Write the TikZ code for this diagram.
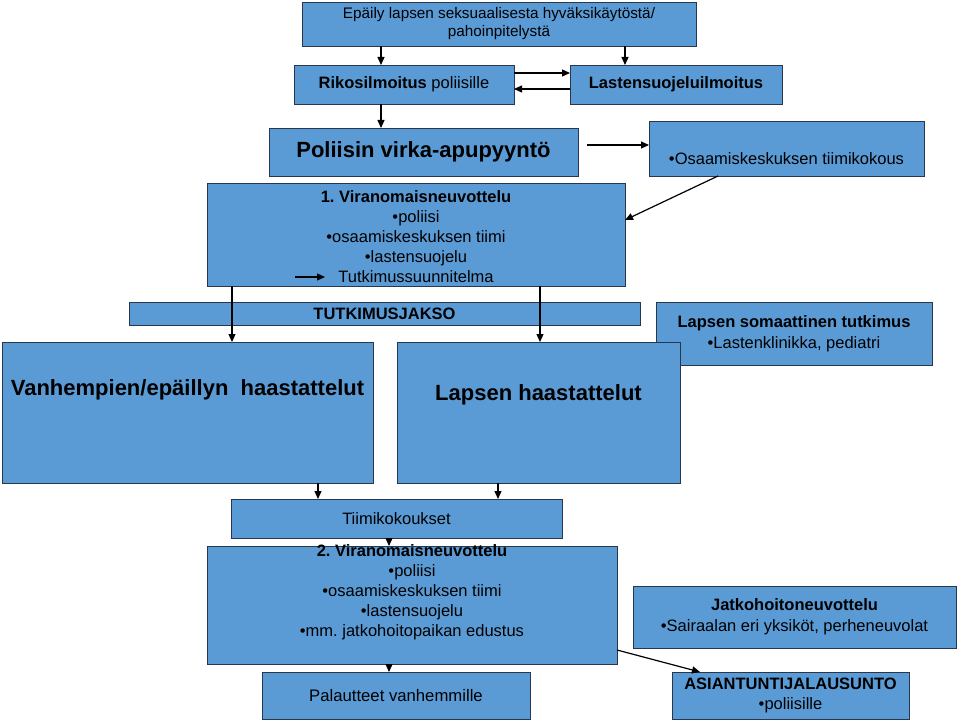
\documentclass[tikz,border=0pt]{standalone}
\usepackage{fontspec}
\setmainfont{Liberation Sans}
\frenchspacing
\usetikzlibrary{arrows.meta}
\definecolor{boxblue}{RGB}{91,155,213}
\definecolor{boxline}{RGB}{40,55,75}
\tikzset{
  box/.style={draw=boxline, fill=boxblue, line width=0.9pt, inner sep=0pt, outer sep=0pt, align=center},
  txt/.style={inner sep=0pt, align=center, text=black},
  arr/.style={line width=1.2pt, -{Triangle[length=8pt,width=7pt]}},
  fs/.style={font=\fontsize{16.5}{20}\selectfont},
  big/.style={font=\bfseries\fontsize{22}{26}\selectfont}
}
\begin{document}
\begin{tikzpicture}[x=1pt,y=-1pt]
\useasboundingbox (0,0) rectangle (959,722);
% boxes
\node[box, font=\fontsize{15.3}{18}\selectfont, minimum width=394pt, minimum height=44pt] (top) at (499,24) {Epäily lapsen seksuaalisesta hyväksikäytöstä/\\pahoinpitelystä};
\node[box, fs, minimum width=220pt, minimum height=39pt] (rikos) at (404,84.5) {\textbf{Rikosilmoitus} poliisille};
\node[box, fs, minimum width=212pt, minimum height=39pt] (lasten) at (676,84.5) {\textbf{Lastensuojeluilmoitus}};
\node[box, big, minimum width=309pt, minimum height=48pt] (pol) at (423.5,152) {Poliisin virka-apupyyntö};
\node[box, minimum width=275pt, minimum height=55pt] (osa) at (786.5,148.5) {};
\node[txt, fs] (osat) at (786.5,159) {•Osaamiskeskuksen tiimikokous};
\node[box, minimum width=418pt, minimum height=103pt] (vir1) at (416,234.5) {};
\node[txt, fs] (vir1t) at (416,236.5) {\textbf{1. Viranomaisneuvottelu}\\•poliisi\\•osaamiskeskuksen tiimi\\•lastensuojelu\\Tutkimussuunnitelma};
\node[box, font=\bfseries\fontsize{16.5}{18}\selectfont, minimum width=511pt, minimum height=23pt] (tutk) at (384.5,313.5) {TUTKIMUSJAKSO};
\node[box, font=\fontsize{16.5}{21}\selectfont, minimum width=276pt, minimum height=63pt] (soma) at (794,333.5) {\textbf{Lapsen somaattinen tutkimus}\\•Lastenklinikka, pediatri};
\node[box, minimum width=371pt, minimum height=141pt] (vanh) at (187.5,412.5) {};
\node[txt, big] (vanht) at (187.5,390) {Vanhempien/epäillyn\ \ haastattelut};
\node[box, minimum width=283pt, minimum height=141pt] (lap) at (538.5,412.5) {};
\node[txt, big] (lapt) at (538.5,395) {Lapsen haastattelut};
\node[box, fs, minimum width=331pt, minimum height=39pt] (tiimi) at (396.5,518.5) {Tiimikokoukset};
\node[box, minimum width=410pt, minimum height=118pt] (vir2) at (412,605) {};
\node[txt, fs] (vir2t) at (412,592) {\textbf{2. Viranomaisneuvottelu}\\•poliisi\\•osaamiskeskuksen tiimi\\•lastensuojelu\\•mm. jatkohoitopaikan edustus};
\node[box, font=\fontsize{16.7}{20}\selectfont, minimum width=268pt, minimum height=47pt] (pal) at (396,695.5) {Palautteet vanhemmille};
\node[box, font=\fontsize{16.5}{21}\selectfont, minimum width=323pt, minimum height=62pt] (jat) at (794.5,617) {\textbf{Jatkohoitoneuvottelu}\\•Sairaalan eri yksiköt, perheneuvolat};
\node[box, fs, minimum width=237pt, minimum height=47pt] (asi) at (790.5,695.5) {\textbf{ASIANTUNTIJALAUSUNTO}\\•poliisille};
% connectors
\draw[arr] (top.south -| 381,0) -- (rikos.north -| 381,0);
\draw[arr] (top.south -| 625,0) -- (lasten.north -| 625,0);
\draw[arr] (rikos.east |- 0,73) -- (lasten.west |- 0,73);
\draw[arr] (lasten.west |- 0,89) -- (rikos.east |- 0,89);
\draw[arr] (rikos.south -| 381,0) -- (pol.north -| 381,0);
\draw[arr, shorten <=9pt] (pol.east |- 0,145) -- (osa.west |- 0,145);
\draw[arr] (osa.south -| 718,0) -- (vir1.east |- 0,220);
\coordinate (ta) at (295,277);
\coordinate (tb) at (325,277);
\draw[arr] (ta) -- (tb);
\draw[arr] (vir1.south -| 232,0) -- (vanh.north -| 232,0);
\draw[arr] (vir1.south -| 540,0) -- (lap.north -| 540,0);
\draw[arr] (vanh.south -| 318,0) -- (tiimi.north -| 318,0);
\draw[arr] (lap.south -| 498,0) -- (tiimi.north -| 498,0);
\draw[arr] (tiimi.south -| 389,0) -- (vir2.north -| 389,0);
\draw[arr] (vir2.south -| 389,0) -- (pal.north -| 389,0);
\draw[arr] (vir2.east |- 0,650) -- ([xshift=28pt]asi.north west);
\end{tikzpicture}
\end{document}
